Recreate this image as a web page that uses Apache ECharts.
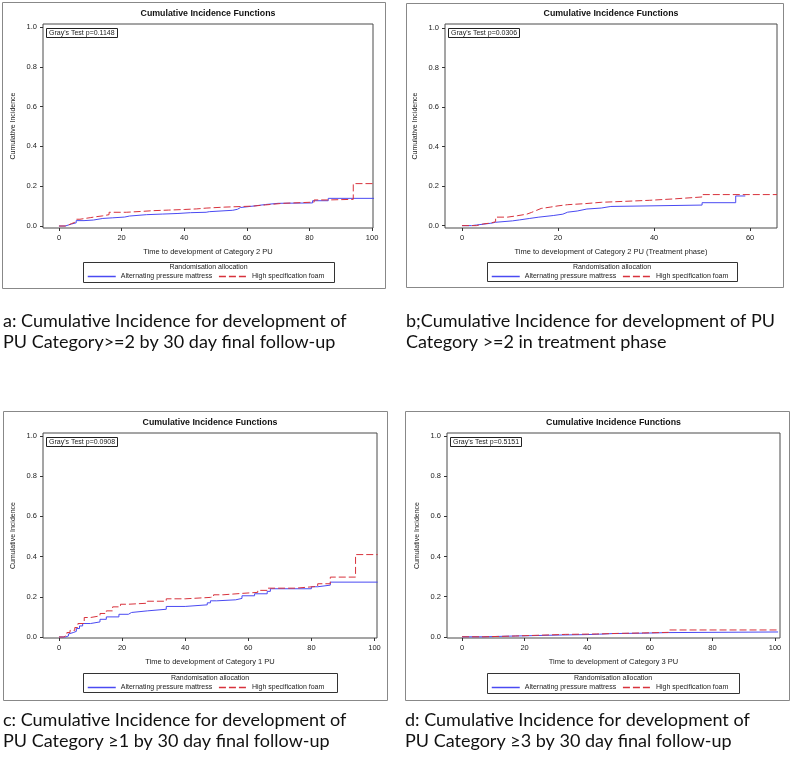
<!DOCTYPE html>
<html>
<head>
<meta charset="utf-8">
<script src="https://cdn.jsdelivr.net/npm/echarts@6/dist/echarts.min.js"></script>
<style>
  html, body { margin: 0; padding: 0; background: #fff; }
  #main { width: 792px; height: 766px; }
</style>
</head>
<body>
<div id="main"></div>
<script>
// series names
const seriesNames = ['Alternating pressure mattress', 'High specification foam'];

// tick labels
const xTicks100 = [0, 20, 40, 60, 80, 100];
const xTicks60 = [0, 20, 40, 60];
const yTicks = [0, 0.2, 0.4, 0.6, 0.8, 1.0];

// panel a: Category >=2 by 30 day follow-up  [time, cumulative incidence]
const aMattress = [[0,0],[2,0.005],[3,0.01],[4,0.016],[5.5,0.027],[8,0.03],[11,0.038],[14,0.041],[17,0.045],[21,0.05],[22.5,0.057],[28,0.06],[33,0.063],[38,0.067],[42,0.069],[47,0.072],[48,0.079],[55.5,0.084],[57,0.093],[58,0.1],[62,0.108],[66,0.114],[70,0.116],[81,0.127],[86,0.139],[101,0.139]];
const aFoam = [[0,0],[2,0.005],[3,0.012],[4,0.018],[5,0.024],[5.6,0.034],[6.7,0.042],[10,0.047],[12,0.051],[14,0.057],[16,0.069],[21.5,0.073],[26,0.077],[30,0.08],[35,0.083],[40,0.086],[44,0.09],[47,0.095],[53,0.1],[62,0.106],[66,0.114],[71.5,0.12],[81.5,0.131],[86,0.134],[94,0.213],[101,0.213]];

// panel b: Category >=2 in treatment phase
const bMattress = [[0,0],[2,0.003],[3,0.012],[6,0.017],[7,0.024],[10.5,0.029],[12,0.036],[14,0.043],[16,0.051],[19,0.058],[21,0.068],[22,0.074],[24,0.084],[26,0.089],[29,0.097],[31,0.104],[50,0.116],[57,0.15],[59,0.15]];
const bFoam = [[0,0],[3,0.009],[4.5,0.013],[6,0.02],[7,0.043],[9.5,0.05],[11.5,0.058],[13.5,0.067],[14.5,0.077],[15.5,0.087],[16.5,0.094],[18.5,0.1],[20,0.106],[22,0.111],[25.5,0.118],[29,0.128],[39,0.135],[44,0.145],[50,0.157],[65.6,0.157]];

// panel c: Category >=1 by 30 day follow-up
const cMattress = [[0,0],[2,0.005],[3,0.015],[3.5,0.022],[4.5,0.028],[5.5,0.042],[6.5,0.055],[7.5,0.067],[10,0.075],[13,0.088],[15,0.1],[19,0.113],[22,0.122],[23,0.13],[28,0.138],[34,0.152],[40,0.16],[47,0.17],[48,0.18],[50,0.185],[56,0.192],[58,0.205],[62,0.215],[66,0.227],[67,0.24],[80,0.25],[82,0.258],[86,0.273],[101,0.273]];
const cFoam = [[0,0],[1.5,0.008],[2.5,0.022],[3.5,0.033],[5,0.047],[6,0.067],[8,0.097],[10,0.105],[13,0.117],[15,0.13],[17,0.15],[19.5,0.163],[22,0.168],[28,0.178],[34,0.19],[40,0.197],[48,0.2],[49,0.21],[52,0.217],[58,0.222],[63,0.232],[66,0.243],[75,0.252],[82,0.265],[86,0.298],[94,0.41],[101,0.41]];

// panel d: Category >=3 by 30 day follow-up
const dMattress = [[0,0],[7,0.004],[17,0.009],[32,0.011],[40,0.013],[44,0.016],[48,0.018],[58,0.021],[66,0.024],[101,0.024]];
const dFoam = [[0,0],[7,0.004],[17,0.012],[33,0.014],[43,0.017],[50,0.019],[57,0.022],[66,0.034],[101,0.034]];

const grayTests = ["Gray's Test p=0.1148", "Gray's Test p=0.0306", "Gray's Test p=0.0908", "Gray's Test p=0.5151"];
const xNames = [
  'Time to development of Category 2 PU',
  'Time to development of Category 2 PU (Treatment phase)',
  'Time to development of Category 1 PU',
  'Time to development of Category 3 PU'
];
const captions = [
  'a: Cumulative Incidence for development of\nPU Category>=2 by 30 day final follow-up',
  'b;Cumulative Incidence for development of PU\nCategory >=2 in treatment phase',
  'c: Cumulative Incidence for development of\nPU Category \u22651 by 30 day final follow-up',
  'd: Cumulative Incidence for development of\nPU Category \u22653 by 30 day final follow-up'
];

const BLUE = '#4a4af2';
const RED = '#d8323c';
const DASH = [7, 3];
const FONT = '"Liberation Sans", Arial, sans-serif';

// layout of each panel (pixels)
const layout = [
  { frame: [2, 2, 383, 286], grid: [43, 24, 330, 204], x: [-5.1, 100.3], y: [-0.01, 1.015], xt: xTicks100, legend: [83, 262, 251, 20], cap: [3, 311] },
  { frame: [406, 3, 377, 284], grid: [445, 24, 332, 204], x: [-3.54, 65.6], y: [-0.012, 1.02], xt: xTicks60, legend: [487, 262, 250, 19], cap: [406, 311] },
  { frame: [3, 411, 384, 289], grid: [43, 433, 334, 205], x: [-5.07, 100.8], y: [-0.005, 1.015], xt: xTicks100, legend: [83, 673, 254, 19], cap: [3, 710] },
  { frame: [405, 411, 384, 289], grid: [447, 433, 333, 205], x: [-4.8, 101.6], y: [-0.006, 1.015], xt: xTicks100, legend: [487, 673, 252, 20], cap: [405, 710] }
];
const data = [[aMattress, aFoam], [bMattress, bFoam], [cMattress, cFoam], [dMattress, dFoam]];

const grid = [], xAxis = [], yAxis = [], series = [], title = [], legend = [], graphic = [];

layout.forEach(function (p, i) {
  const g = p.grid;
  grid.push({ left: g[0], top: g[1], width: g[2], height: g[3], show: true, borderColor: '#4a4a4a', borderWidth: 1, backgroundColor: '#fff' });
  xAxis.push({
    type: 'value', gridIndex: i, min: p.x[0], max: p.x[1],
    name: xNames[i], nameLocation: 'middle', nameGap: 20,
    nameTextStyle: { fontFamily: FONT, fontSize: 7.5, color: '#222' },
    axisLine: { show: false, onZero: false }, splitLine: { show: false },
    axisTick: { show: true, length: 3, customValues: p.xt, lineStyle: { color: '#333' } },
    axisLabel: { customValues: p.xt, margin: 6, fontFamily: FONT, fontSize: 7.5, color: '#222' }
  });
  yAxis.push({
    type: 'value', gridIndex: i, min: p.y[0], max: p.y[1],
    name: 'Cumulative Incidence', nameLocation: 'middle', nameGap: 26,
    nameTextStyle: { fontFamily: FONT, fontSize: 7, color: '#222' },
    axisLine: { show: false, onZero: false }, splitLine: { show: false },
    axisTick: { show: true, length: 3, customValues: yTicks, lineStyle: { color: '#333' } },
    axisLabel: { customValues: yTicks, margin: 6, fontFamily: FONT, fontSize: 7.5, color: '#222',
      formatter: function (v) { return v.toFixed(1); } }
  });
  series.push({
    name: seriesNames[0], type: 'line', step: 'end', xAxisIndex: i, yAxisIndex: i,
    data: data[i][0], symbol: 'none', lineStyle: { color: BLUE, width: 1 }, itemStyle: { color: BLUE }
  });
  series.push({
    name: seriesNames[1], type: 'line', step: 'end', xAxisIndex: i, yAxisIndex: i,
    data: data[i][1], symbol: 'none', lineStyle: { color: RED, width: 1, type: DASH }, itemStyle: { color: RED }
  });

  // panel title
  title.push({
    text: 'Cumulative Incidence Functions', left: g[0] + g[2] / 2, top: g[1] - 15, textAlign: 'center', padding: 0,
    textStyle: { fontFamily: FONT, fontSize: 8.8, fontWeight: 'bold', color: '#111' }
  });
  // Gray's test box
  title.push({
    text: grayTests[i], left: g[0] + 3, top: g[1] + 4, padding: [1, 3], borderColor: '#222', borderWidth: 1,
    textStyle: { fontFamily: FONT, fontSize: 7, fontWeight: 'normal', color: '#222', lineHeight: 8 }
  });

  // legend for the two allocation groups
  const L = p.legend;
  legend.push({
    left: L[0] + 4, top: L[1] + 11, itemWidth: 28, itemHeight: 8, itemGap: 6, padding: 0,
    selectedMode: false, itemStyle: { opacity: 0 },
    data: [
      { name: seriesNames[0], lineStyle: { color: BLUE, width: 1.5, type: 'solid' } },
      { name: seriesNames[1], lineStyle: { color: RED, width: 1.5, type: DASH } }
    ],
    textStyle: { fontFamily: FONT, fontSize: 7, color: '#222' }
  });

  // outer frame
  graphic.push({ type: 'rect', shape: { x: p.frame[0] + 0.5, y: p.frame[1] + 0.5, width: p.frame[2], height: p.frame[3] },
    style: { fill: null, stroke: '#888', lineWidth: 1 }, z: -1 });
  // legend frame and heading
  graphic.push({ type: 'rect', shape: { x: L[0] + 0.5, y: L[1] + 0.5, width: L[2], height: L[3] },
    style: { fill: null, stroke: '#333', lineWidth: 1 } });
  graphic.push({ type: 'text', x: L[0] + L[2] / 2, y: L[1] + 5,
    style: { text: 'Randomisation allocation', font: '7px ' + FONT, fill: '#222', textAlign: 'center', textVerticalAlign: 'middle' } });
  // caption under the panel
  graphic.push({ type: 'text', x: p.cap[0], y: p.cap[1],
    style: { text: captions[i], font: '18px Lato', fill: '#111', lineHeight: 21, textAlign: 'left' } });
});

const chart = echarts.init(document.getElementById('main'));
chart.setOption({
  backgroundColor: '#fff',
  animation: false,
  title: title,
  legend: legend,
  grid: grid,
  xAxis: xAxis,
  yAxis: yAxis,
  series: series,
  graphic: graphic
});
</script>
</body>
</html>
